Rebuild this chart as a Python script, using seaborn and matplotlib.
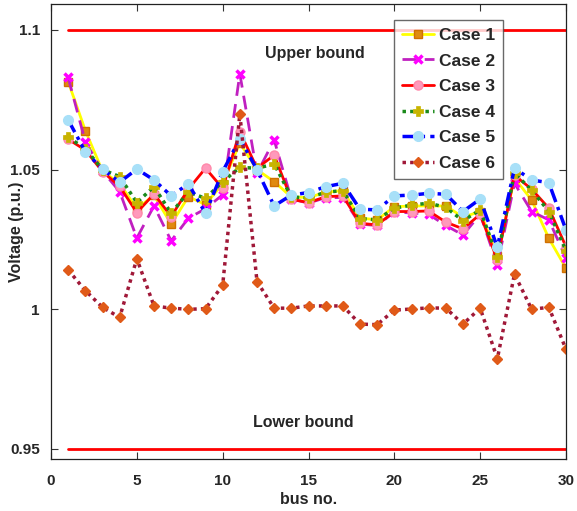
import numpy as np
import pandas as pd
import matplotlib
matplotlib.use("Agg")
import matplotlib.pyplot as plt
import seaborn as sns

bus = list(range(1, 31))
case1 = [1.0815, 1.0640, 1.0495, 1.0450, 1.0360, 1.0408, 1.0305, 1.0403, 1.0375, 1.0450,
         1.0595, 1.0500, 1.0457, 1.0402, 1.0400, 1.0419, 1.0425, 1.0327, 1.0320, 1.0367,
         1.0370, 1.0370, 1.0370, 1.0330, 1.0350, 1.0190, 1.0470, 1.0391, 1.0254, 1.0147]
case2 = [1.0830, 1.0600, 1.0495, 1.0421, 1.0255, 1.0370, 1.0245, 1.0326, 1.0360, 1.0410,
         1.0843, 1.0487, 1.0606, 1.0395, 1.0380, 1.0400, 1.0400, 1.0305, 1.0300, 1.0348,
         1.0345, 1.0340, 1.0300, 1.0266, 1.0340, 1.0159, 1.0451, 1.0350, 1.0320, 1.0183]
case3 = [1.0609, 1.0570, 1.0493, 1.0440, 1.0346, 1.0413, 1.0332, 1.0430, 1.0505, 1.0433,
         1.0636, 1.0505, 1.0552, 1.0394, 1.0382, 1.0403, 1.0406, 1.0308, 1.0302, 1.0350,
         1.0350, 1.0352, 1.0312, 1.0288, 1.0340, 1.0177, 1.0480, 1.0430, 1.0362, 1.0224]
case4 = [1.0616, 1.0575, 1.0500, 1.0475, 1.0382, 1.0439, 1.0344, 1.0420, 1.0397, 1.0457,
         1.0508, 1.0505, 1.0520, 1.0402, 1.0399, 1.0419, 1.0425, 1.0325, 1.0320, 1.0362,
         1.0373, 1.0380, 1.0365, 1.0317, 1.0356, 1.0188, 1.0487, 1.0427, 1.0350, 1.0210]
case5 = [1.0678, 1.0564, 1.0502, 1.0455, 1.0502, 1.0463, 1.0406, 1.0449, 1.0344, 1.0493,
         1.0610, 1.0500, 1.0370, 1.0409, 1.0418, 1.0439, 1.0451, 1.0358, 1.0356, 1.0406,
         1.0409, 1.0415, 1.0412, 1.0350, 1.0395, 1.0222, 1.0505, 1.0463, 1.0453, 1.0284]
case6 = [1.0141, 1.0067, 1.0007, 0.9971, 1.0181, 1.0012, 1.0004, 1.0000, 1.0002, 1.0086,
         1.0699, 1.0099, 1.0004, 1.0004, 1.0012, 1.0012, 1.0012, 0.9947, 0.9945, 0.9997,
         1.0001, 1.0005, 1.0004, 0.9947, 1.0004, 0.9823, 1.0126, 1.0000, 1.0007, 0.9857]
upper_bound = 1.1
lower_bound = 0.95
case_names = ["Case 1", "Case 2", "Case 3", "Case 4", "Case 5", "Case 6"]
xticks = [0, 5, 10, 15, 20, 25, 30]
yticks = [0.95, 1.0, 1.05, 1.1]
ytick_labels = ["0.95", "1", "1.05", "1.1"]

sns.set_style("ticks")
plt.rcParams['font.family'] = ['Liberation Sans', 'DejaVu Sans']
plt.rcParams['font.weight'] = 'bold'
plt.rcParams['axes.labelweight'] = 'bold'

fig = plt.figure(figsize=(5.77, 5.11), dpi=100)
ax = fig.add_axes([51/577, 1 - 459/511, 515/577, 455/511])

bounds = pd.DataFrame({"bus": [1, 30]})
sns.lineplot(x=bounds["bus"], y=[upper_bound, upper_bound], color="#ff0000", lw=2, ax=ax)
sns.lineplot(x=bounds["bus"], y=[lower_bound, lower_bound], color="#ff0000", lw=2, ax=ax)

styles = [
    dict(color="#ffff00", ls="-", lw=2, marker="s", ms=5.5, mfc="#e08a10", mec="#d07000", mew=1),
    dict(color="#c020c0", ls=(0, (5, 3)), lw=2, marker="x", ms=6, mfc="#ff00ff", mec="#ff00ff", mew=2.5),
    dict(color="#ff0000", ls="-", lw=2, marker="o", ms=6.5, mfc="#ff99bb", mec="#ff88aa", mew=1),
    dict(color="#1a8a1a", ls=(0, (1, 1.2)), lw=2.5, marker="P", ms=7, mfc="#c8b400", mec="#c8b400", mew=0.5),
    dict(color="#0000ff", ls=(0, (4, 1.5, 1, 1.5)), lw=2.5, marker="o", ms=7, mfc="#a8e0f8", mec="#a8e0f8", mew=1),
    dict(color="#a01838", ls=(0, (1, 1.2)), lw=2.5, marker="D", ms=5.5, mfc="#e05a18", mec="#e05a18", mew=1),
]
series = [case1, case2, case3, case4, case5, case6]
for name, vals, st in zip(case_names, series, styles):
    sns.lineplot(x=bus, y=vals, ax=ax, label=name, **st)

ax.text(15.4, 1.0915, "Upper bound", ha="center", va="center", fontsize=11.5, fontweight="bold")
ax.text(14.7, 0.9593, "Lower bound", ha="center", va="center", fontsize=11.5, fontweight="bold")

ax.set_xlim(0, 30)
ax.set_ylim(0.9464, 1.1093)
ax.set_xticks(xticks)
ax.set_xticklabels([str(t) for t in xticks], fontsize=11, fontweight="bold")
ax.set_yticks(yticks)
ax.set_yticklabels(ytick_labels, fontsize=11, fontweight="bold")
ax.tick_params(direction="in", top=True, right=True, length=5, width=0.8, color="#333333")
ax.tick_params(axis="y", pad=8)
ax.tick_params(axis="x", pad=11)
for sp in ax.spines.values():
    sp.set_visible(True)
    sp.set_linewidth(0.9)
    sp.set_color("#222222")
ax.set_xlabel("bus no.", fontsize=11.5, fontweight="bold")
ax.set_ylabel("Voltage (p.u.)", fontsize=11.5, fontweight="bold")
ax.xaxis.set_label_coords(0.5, -(492 - 459) / 455)
ax.yaxis.set_label_coords(-(51 - 24) / 515, 0.5)

h, l = ax.get_legend_handles_labels()
h = h[-6:]
l = l[-6:]
leg = ax.legend(h, l, loc="upper right", bbox_to_anchor=((503 - 51) / 515, 1 - (20 - 4) / 455),
                borderaxespad=0, frameon=True, fancybox=False, edgecolor="#444444",
                handlelength=1.85, handletextpad=0.3, borderpad=0.45, labelspacing=0.6,
                prop={"weight": "bold", "size": 12.5})
leg.get_frame().set_linewidth(1.0)

fig.savefig("out.png", dpi=100)
